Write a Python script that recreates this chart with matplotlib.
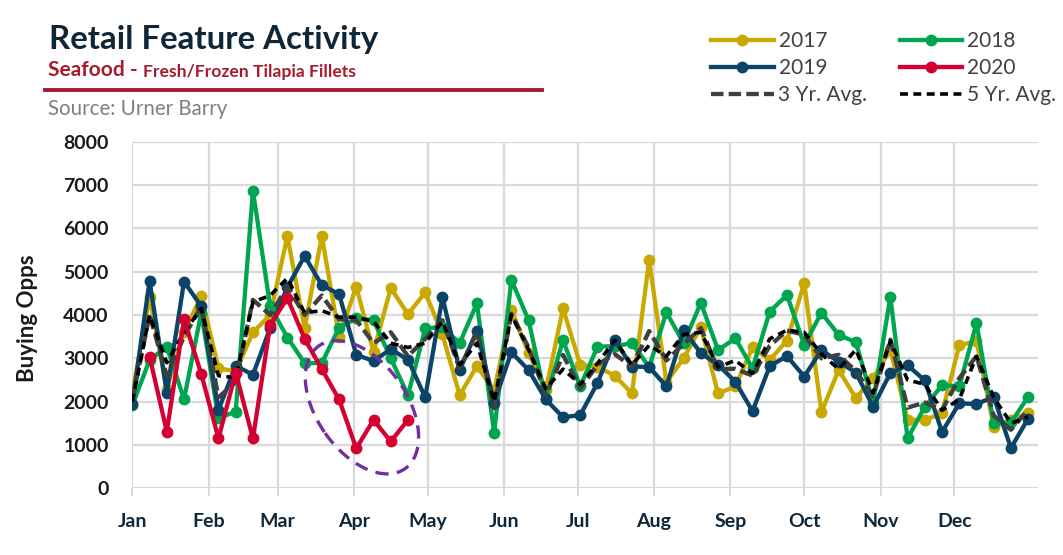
import numpy as np
import matplotlib
matplotlib.use('Agg')
import matplotlib.pyplot as plt
import matplotlib.transforms as mtransforms
from matplotlib.patches import Ellipse
from matplotlib.lines import Line2D

plt.rcParams['font.family'] = ['Lato', 'DejaVu Sans']

# weekly points, week 0 = first week of January
weeks = np.arange(53)
weeks_2020 = np.arange(1, 17)

y2017 = [2180, 4420, 2300, 3600, 4440, 2770, 2700, 3600, 4000, 5820, 3700, 5820, 3500,
         4650, 3150, 4620, 4020, 4520, 3550, 2150, 2820, 2250, 4120, 3120, 2270, 4150,
         2850, 2800, 2600, 2190, 5270, 2450, 3000, 3720, 2190, 2350, 3250, 2960, 3410,
         4740, 1760, 2730, 2080, 2540, 3200, 1580, 1580, 1730, 3300, 3400, 1420, 1580, 1730]
y2018 = [1920, 2960, 3270, 2055, 4050, 1620, 1770, 6870, 4200, 3480, 2890, 2890, 3710,
         3920, 3880, 3000, 2150, 3690, 3720, 3350, 4270, 1280, 4810, 3880, 2050, 3420,
         2350, 3270, 3280, 3350, 2800, 4060, 3350, 4280, 3190, 3460, 2770, 4080, 4460,
         3310, 4050, 3540, 3370, 1980, 4420, 1150, 1880, 2380, 2350, 3810, 1500, 1520, 2110]
y2019 = [1950, 4790, 2210, 4770, 4200, 1810, 2830, 2620, 3700, 4640, 5360, 4690, 4480,
         3080, 2940, 3210, 2970, 2100, 4410, 2730, 3640, 1980, 3140, 2730, 2050, 1640,
         1690, 2430, 3420, 2810, 2800, 2350, 3650, 3120, 2850, 2460, 1780, 2820, 3050,
         2580, 3190, 2920, 2670, 1880, 2660, 2840, 2490, 1300, 1960, 1945, 2110, 930, 1610]
y2020 = [3040, 1310, 3900, 2640, 1150, 2670, 1150, 3770, 4390, 3450, 2750, 2050, 920,
         1580, 1080, 1580]
avg3 = [2050, 4000, 2600, 3500, 4200, 2100, 2450, 4350, 4000, 4650, 4000, 4450, 3900,
        3880, 3350, 3600, 3050, 3450, 3880, 2760, 3600, 1850, 4030, 3250, 2150, 3080,
        2300, 2850, 3100, 2800, 3630, 2950, 3330, 3700, 2750, 2760, 2600, 3290, 3640,
        3540, 3000, 3080, 2700, 2130, 3430, 1860, 1980, 1810, 2540, 3050, 1680, 1350, 1820]
avg5 = [2000, 4000, 2900, 3600, 4150, 2600, 2550, 4300, 4450, 4850, 4050, 4100, 3950,
        3950, 3850, 3350, 3250, 3350, 3850, 2850, 3350, 2000, 4000, 3200, 2300, 2750,
        2400, 2880, 3420, 2850, 3300, 3050, 3550, 3600, 2800, 2950, 2650, 3450, 3650,
        3600, 3100, 2750, 3200, 2200, 3400, 2500, 2400, 1800, 2050, 3050, 2100, 1500, 1650]

month_start = [0, 31, 59, 90, 120, 151, 181, 212, 243, 273, 304, 334]
month_lab = ['Jan', 'Feb', 'Mar', 'Apr', 'May', 'Jun', 'Jul', 'Aug', 'Sep', 'Oct', 'Nov', 'Dec']

navy = '#0f2638'
c17, c18, c19, c20 = '#c9a800', '#00a54f', '#0b4468', '#d40032'

fig = plt.figure(figsize=(10.63, 5.55), dpi=100)
ax = fig.add_axes([0.1245, 0.1202, 0.852, 0.6245])

days = weeks * 7
days20 = weeks_2020 * 7
lw, ms = 3.1, 7.5
ax.plot(days, y2017, color=c17, lw=lw, marker='o', ms=ms, zorder=3)
ax.plot(days, y2018, color=c18, lw=lw, marker='o', ms=ms, zorder=3)
ax.plot(days, y2019, color=c19, lw=lw, marker='o', ms=ms, zorder=4)
ax.plot(days, avg3, color='#404040', lw=lw, dashes=(2.9, 1.2), zorder=5)
ax.plot(days, avg5, color='black', lw=2.6, dashes=(2.2, 1.5), zorder=6)
ax.plot(days20, y2020, color=c20, lw=lw, marker='o', ms=ms, zorder=7)

# highlight circle around April 2020
trans = fig.dpi_scale_trans + mtransforms.ScaledTranslation(93.3, 1870, ax.transData)
ax.add_patch(Ellipse((0, 0), 1.5, 0.9, angle=-55, transform=trans, fill=False,
                     ec='#7030a0', lw=2.4, ls=(0, (4, 2.5)), zorder=8))

ax.set_xlim(0, 368)
ax.set_ylim(0, 8000)
ax.set_xticks(month_start)
ax.set_xticklabels(month_lab)
ax.set_yticks(np.arange(0, 8001, 1000))
ax.grid(True, color='#d9d9d9', lw=1.6)
ax.set_axisbelow(True)
for s in ax.spines.values():
    s.set_visible(False)
ax.tick_params(axis='x', length=6, width=1.4, color='#d9d9d9', pad=12,
               labelsize=14, labelcolor=navy)
ax.tick_params(axis='y', length=0, pad=17, labelsize=14, labelcolor='#1a1a1a')
for t in ax.get_xticklabels() + ax.get_yticklabels():
    t.set_fontweight('bold')

fig.text(27 / 1063, 1 - 318 / 555, 'Buying Opps', rotation=90, ha='center', va='center',
         fontsize=16, fontweight='bold', color='#1a1a1a')

# header
fig.text(49 / 1063, 1 - 40 / 555, 'Retail Feature Activity', fontsize=23.8,
         fontweight='bold', color=navy, va='center')
t1 = fig.text(48 / 1063, 1 - 80 / 555, 'Seafood - ', fontsize=15, fontweight='bold',
              color='#a51c30', va='bottom')
ax.annotate('Fresh/Frozen Tilapia Fillets', xy=(1, 0), xycoords=t1, va='bottom',
            fontsize=12.6, fontweight='bold', color='#a51c30', annotation_clip=False)
fig.add_artist(Line2D([45 / 1063, 542 / 1063], [1 - 89.5 / 555] * 2, color='#a51c30',
                      lw=2.8, transform=fig.transFigure))
fig.text(48 / 1063, 1 - 109 / 555, 'Source: Urner Barry', fontsize=14.8, color='#7f7f7f',
         va='center')

handles = [
    Line2D([], [], color=c17, lw=lw, marker='o', ms=ms),
    Line2D([], [], color=c19, lw=lw, marker='o', ms=ms),
    Line2D([], [], color='#404040', lw=lw, dashes=(2.9, 1.2)),
    Line2D([], [], color=c18, lw=lw, marker='o', ms=ms),
    Line2D([], [], color=c20, lw=lw, marker='o', ms=ms),
    Line2D([], [], color='black', lw=2.6, dashes=(2.2, 1.5)),
]
labels = ['2017', '2019', '3 Yr. Avg.', '2018', '2020', '5 Yr. Avg.']
fig.legend(handles, labels, ncol=2, loc='upper left', bbox_to_anchor=(711 / 1063, 1 - 31 / 555),
           frameon=False, fontsize=15, labelcolor='#404040', handlelength=3.0,
           handletextpad=0.24, columnspacing=1.55, labelspacing=0.34, borderpad=0,
           borderaxespad=0)

fig.savefig('out.png', dpi=100)
